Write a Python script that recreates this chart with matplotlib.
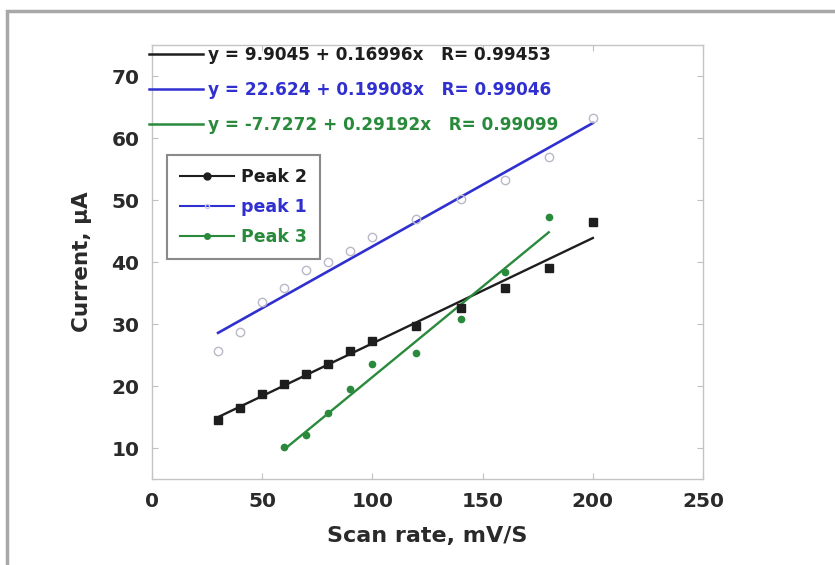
import matplotlib
matplotlib.use("Agg")
import matplotlib.pyplot as plt
from matplotlib.lines import Line2D
from matplotlib.patches import Rectangle

plt.rcParams['font.family'] = ['DejaVu Sans']
plt.rcParams['font.weight'] = 'bold'
plt.rcParams['axes.labelweight'] = 'bold'

# scan rates (mV/s) and peak currents (uA)
scan_rate = [30, 40, 50, 60, 70, 80, 90, 100, 120, 140, 160, 180, 200]
peak1 = [25.6, 28.7, 33.6, 35.8, 38.7, 40.0, 41.8, 44.1, 47.0, 50.2, 53.2, 56.9, 63.2]
peak2 = [14.6, 16.5, 18.8, 20.3, 21.9, 23.5, 25.6, 27.3, 29.7, 32.6, 35.8, 39.1, 46.4]
scan_rate3 = [60, 70, 80, 90, 100, 120, 140, 160, 180]
peak3 = [10.2, 12.1, 15.6, 19.5, 23.5, 25.3, 30.8, 38.4, 47.3]

# linear fits: intercept, slope, R
fit1 = (22.624, 0.19908, 0.99046)
fit2 = (9.9045, 0.16996, 0.99453)
fit3 = (-7.7272, 0.29192, 0.99099)

c_black = '#1e1e1e'
c_blue = '#3030d0'
c_green = '#2a8a3c'
c_text = '#2a2a2a'

fig = plt.figure(figsize=(8.35, 5.65), dpi=100)
ax = fig.add_axes([0.182, 0.152, 0.660, 0.768])

# grey frame round the figure
fig.patches.append(Rectangle((0.008, -0.05), 1.2, 1.0305, transform=fig.transFigure,
                             fill=False, edgecolor='#a8a8a8', lw=2.5))


def fit_line(x, fit):
    a, b, r = fit
    xs = [min(x), max(x)]
    return xs, [a + b * v for v in xs]


# points
ax.plot(scan_rate, peak1, 'o', mfc='none', mec='#b8b8c8', ms=6, mew=1, zorder=3)
ax.plot(scan_rate, peak2, 's', color=c_black, ms=6, zorder=3)
ax.plot(scan_rate3, peak3, 'o', color=c_green, ms=4.5, zorder=3)

# fitted lines
ax.plot(*fit_line(scan_rate, fit2), color=c_black, lw=1.7)
ax.plot(*fit_line(scan_rate, fit1), color=c_blue, lw=1.9)
ax.plot(*fit_line(scan_rate3, fit3), color=c_green, lw=1.7)

ax.set_xlim(0, 250)
ax.set_ylim(5, 75)
ax.set_xticks([0, 50, 100, 150, 200, 250])
ax.set_yticks([10, 20, 30, 40, 50, 60, 70])
ax.tick_params(direction='in', length=4, color='#c0c0c0', labelsize=14.5,
               labelcolor=c_text, top=True, right=True, pad=9)
for s in ax.spines.values():
    s.set_color('#c4c4c4')
    s.set_linewidth(1.0)

ax.set_xlabel('Scan rate, mV/S', fontsize=16, color=c_text, labelpad=11)
ax.set_ylabel('Current, μA', fontsize=15.5, color=c_text, labelpad=14)

# equations of the fits
eq_handles = [Line2D([], [], color=c_black, lw=1.8),
              Line2D([], [], color=c_blue, lw=1.8),
              Line2D([], [], color=c_green, lw=1.8)]
eq_labels = ['y = %s + %sx   R= %s' % f for f in (fit2, fit1, fit3)]
eq_leg = ax.legend(eq_handles, eq_labels, loc='upper left', frameon=False,
                   bbox_to_anchor=(149 / 835, 1 - 46 / 565), bbox_transform=fig.transFigure,
                   fontsize=12.2, handlelength=3.2, handletextpad=0.3, labelspacing=1.0,
                   borderpad=0, borderaxespad=0, labelcolor='linecolor')
ax.add_artist(eq_leg)

# series legend
pk_handles = [Line2D([], [], color=c_black, lw=1.5, marker='o', ms=5),
              Line2D([], [], color=c_blue, lw=1.5, marker='o', ms=3, mfc='none', mec='#c8c8ff'),
              Line2D([], [], color=c_green, lw=1.5, marker='o', ms=4)]
pk_leg = ax.legend(pk_handles, ['Peak 2', 'peak 1', 'Peak 3'], loc='upper left',
                   bbox_to_anchor=(167 / 835, 1 - 155 / 565), bbox_transform=fig.transFigure,
                   fontsize=12.5, handlelength=3.1, handletextpad=0.4, labelspacing=0.7,
                   borderpad=0.75, borderaxespad=0, fancybox=False, framealpha=1,
                   edgecolor='#8a8a8a', labelcolor='linecolor')
pk_leg.get_frame().set_linewidth(1.5)

fig.savefig('out.png', dpi=100)
